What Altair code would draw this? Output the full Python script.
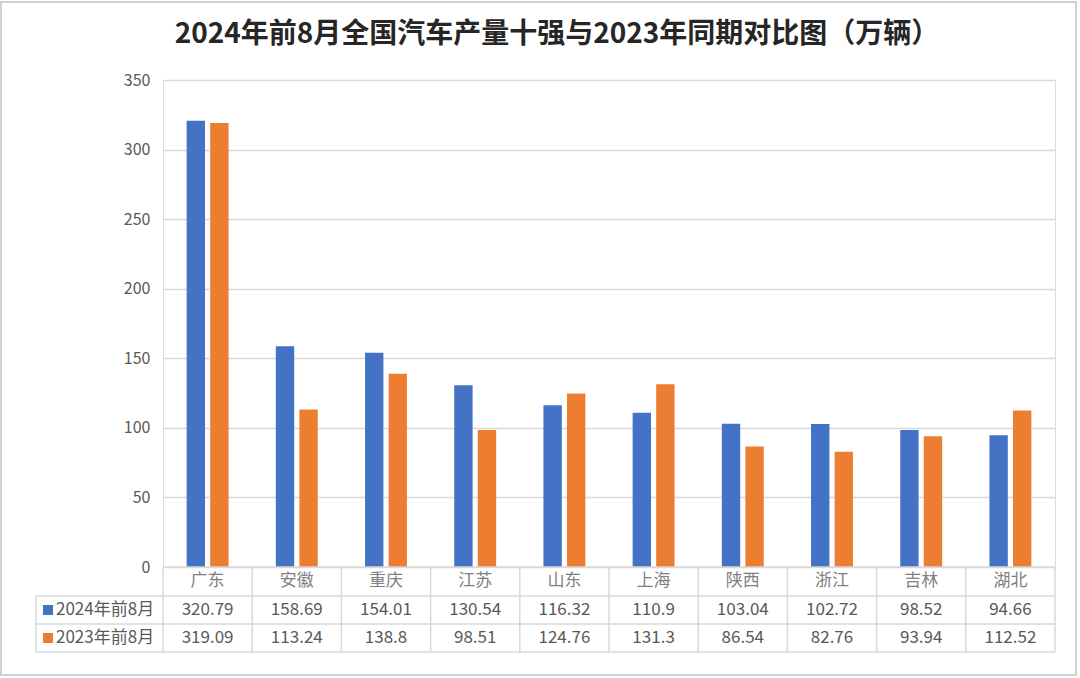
import altair as alt
import pandas as pd

provinces = ["广东", "安徽", "重庆", "江苏", "山东", "上海", "陕西", "浙江", "吉林", "湖北"]
v2024 = [320.79, 158.69, 154.01, 130.54, 116.32, 110.9, 103.04, 102.72, 98.52, 94.66]
v2023 = [319.09, 113.24, 138.8, 98.51, 124.76, 131.3, 86.54, 82.76, 93.94, 112.52]
series = ["2024年前8月", "2023年前8月"]
colors = ["#4472C4", "#ED7D31"]
y_ticks = [0, 50, 100, 150, 200, 250, 300, 350]
title_text = "2024年前8月全国汽车产量十强与2023年同期对比图（万辆）"

W, H = 892, 487
PL, PT = 163, 80
FONT = "Noto Sans CJK SC"
GREY = "#595959"
LINE = "#d9d9d9"

rows = []
for i, p in enumerate(provinces):
    rows.append({"province": p, "series": series[0], "value": v2024[i], "idx": i + 0.5,
                 "label": f"{v2024[i]:g}"})
    rows.append({"province": p, "series": series[1], "value": v2023[i], "idx": i + 0.5,
                 "label": f"{v2023[i]:g}"})
df = pd.DataFrame(rows)
cats = pd.DataFrame({"province": provinces, "idx": [i + 0.5 for i in range(len(provinces))]})
bounds = pd.DataFrame({"b": list(range(len(provinces) + 1))})

pin = 0.53
xband = alt.X("province:N", sort=provinces, axis=None,
              scale=alt.Scale(paddingInner=pin, paddingOuter=pin / 2))

bars = alt.Chart(df).mark_bar().encode(
    x=xband,
    xOffset=alt.XOffset("series:N", sort=series, scale=alt.Scale(paddingInner=0.22)),
    y=alt.Y("value:Q", title=None,
            scale=alt.Scale(domain=[0, 350], nice=False),
            axis=alt.Axis(values=y_ticks, grid=True, gridColor=LINE, gridWidth=1.5,
                          domain=False, ticks=False, labelPadding=13,
                          labelFontSize=16, labelColor=GREY, labelFont=FONT)),
    color=alt.Color("series:N", sort=series,
                    scale=alt.Scale(domain=series, range=colors), legend=None),
)

xq = alt.X("idx:Q", scale=alt.Scale(domain=[0, 10], nice=False, zero=False), axis=None)

cat_text = alt.Chart(cats).mark_text(fontSize=17, color="#7f7f7f", font=FONT, baseline="middle").encode(
    x=xq, y=alt.value(501), text="province:N")

val24 = alt.Chart(df[df.series == series[0]]).mark_text(fontSize=17, color=GREY, font=FONT, baseline="middle").encode(
    x=xq, y=alt.value(530), text="label:N")
val23 = alt.Chart(df[df.series == series[1]]).mark_text(fontSize=17, color=GREY, font=FONT, baseline="middle").encode(
    x=xq, y=alt.value(558), text="label:N")

vlines = alt.Chart(bounds).mark_rule(color=LINE, strokeWidth=1.5).encode(
    x=alt.X("b:Q", scale=alt.Scale(domain=[0, 10], nice=False, zero=False), axis=None),
    y=alt.value(487), y2=alt.value(572))

hl = []
for yy, x0 in [(487, 0), (516, 36 - PL), (544, 36 - PL), (572, 36 - PL)]:
    hl.append(alt.Chart(cats.head(1)).mark_rule(color=LINE, strokeWidth=1.5).encode(
        x=alt.value(x0), x2=alt.value(W), y=alt.value(yy)))
left_v = alt.Chart(cats.head(1)).mark_rule(color=LINE, strokeWidth=1.5).encode(
    x=alt.value(36 - PL), y=alt.value(516), y2=alt.value(572))

leg = []
for s, c, yy in [(series[0], colors[0], 530), (series[1], colors[1], 558)]:
    one = pd.DataFrame({"series": [s]})
    leg.append(alt.Chart(one).mark_square(size=100, opacity=1, color=c).encode(
        x=alt.value(48 - PL), y=alt.value(yy)))
    leg.append(alt.Chart(one).mark_text(fontSize=17, color=GREY, font=FONT, align="left",
                                        baseline="middle").encode(
        x=alt.value(56 - PL), y=alt.value(yy), text="series:N"))

title = alt.Chart(pd.DataFrame({"t": [title_text]})).mark_text(
    fontSize=28, fontWeight="bold", color="#262626", font=FONT, baseline="middle").encode(
    x=alt.value(557 - PL), y=alt.value(35 - PT), text="t:N")

frame = alt.Chart(cats.head(1)).mark_rect(fill=None, stroke="#d0d0d0", strokeWidth=2).encode(
    x=alt.value(1 - PL), x2=alt.value(1076 - PL), y=alt.value(2 - PT), y2=alt.value(675 - PT))

chart = alt.layer(
    bars, *hl, vlines, left_v, cat_text, val24, val23, *leg, title, frame
).resolve_scale(x="independent").properties(
    width=W, height=H,
    autosize=alt.AutoSizeParams(type="none"),
    padding={"left": PL, "top": PT, "right": 1080 - PL - W, "bottom": 678 - PT - H},
).configure_view(stroke=None).configure(background="white")

chart.save("out.html", embed_options={"renderer": "svg", "actions": False})
